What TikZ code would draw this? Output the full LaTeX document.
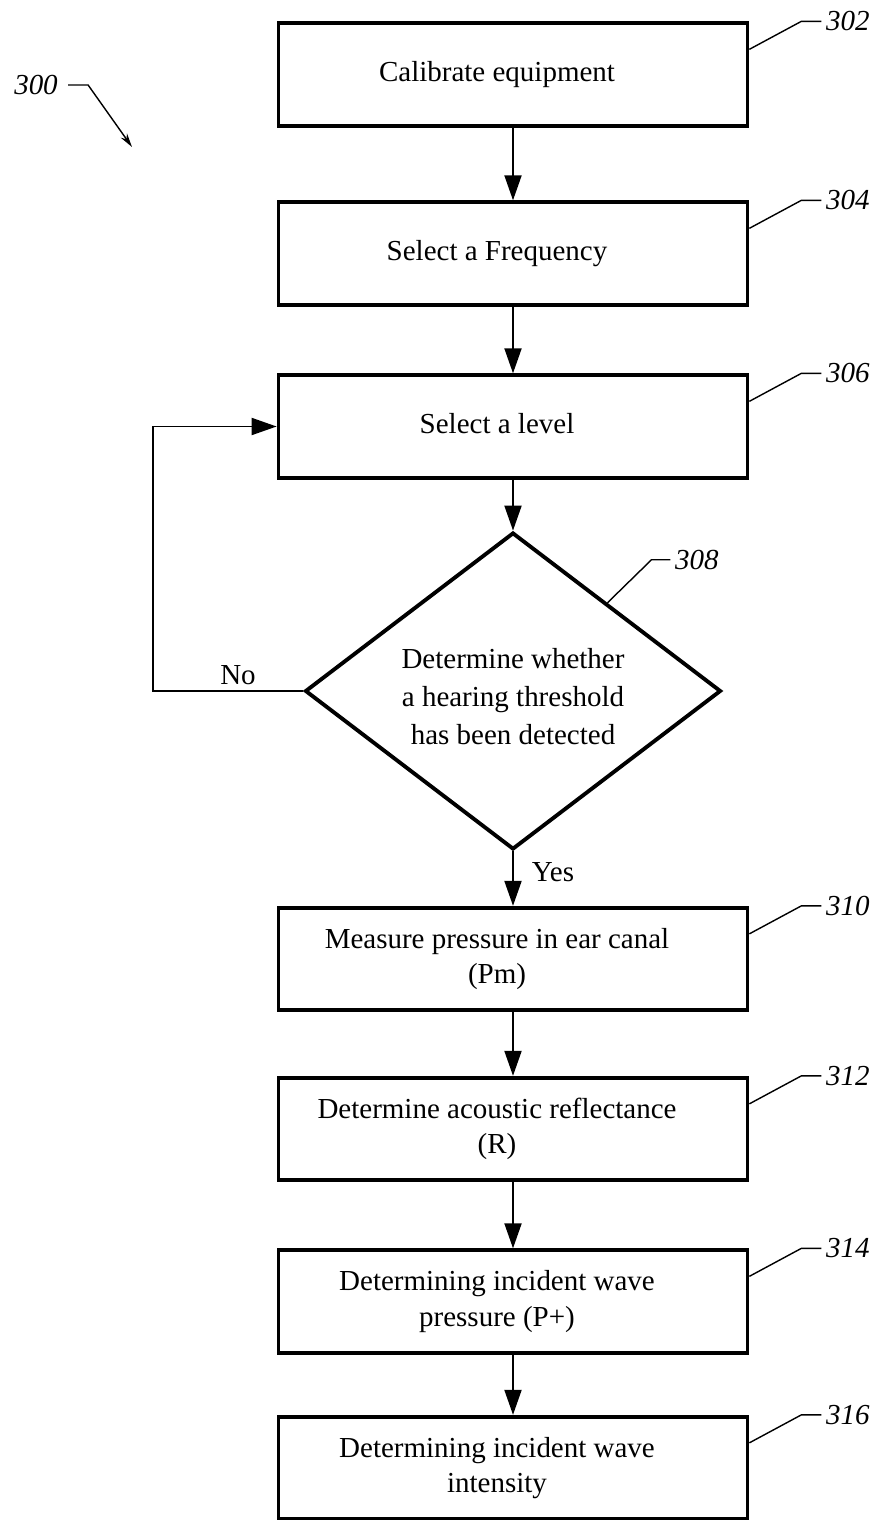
\documentclass[tikz,border=0pt]{standalone}
\usepackage{fontspec}
\setmainfont{Liberation Serif}
\usetikzlibrary{shapes.geometric,arrows.meta,calc}

\newcommand{\shiftl}[1]{\hspace*{-0.64cm}\begin{tabular}{@{}c@{}}#1\end{tabular}}
\newcommand{\lowr}[1]{\raisebox{-0.16cm}[\height][\depth]{\begin{tabular}{@{}c@{}}#1\end{tabular}}}

\tikzset{
  stepbox/.style={draw, line width=2.2pt, minimum width=9.38cm, minimum height=2.05cm, inner sep=0pt,
    font=\fontsize{16.5}{20}\selectfont},
  decision/.style={draw, diamond, line width=2.2pt, minimum width=8.32cm, minimum height=6.34cm,
    aspect=1.31, inner sep=0pt, font=\fontsize{16.5}{21.5}\selectfont},
  flow/.style={line width=1.1pt, -{Triangle[length=0.5cm,width=0.34cm]}},
  lead/.style={line width=0.8pt},
  refnum/.style={font=\fontsize{16.5}{20}\selectfont\itshape, anchor=west, inner sep=0pt, xshift=0.08cm},
  answer/.style={font=\fontsize{16.5}{20}\selectfont, inner sep=0pt}
}

\begin{document}
\begin{tikzpicture}[x=0.02cm, y=-0.02cm]
\useasboundingbox (0,0) rectangle (873,1520);

\node[stepbox] (cal) at (513,74.5) {\shiftl{Calibrate equipment}};
\node[stepbox] (freq) at (513,253.5) {\shiftl{Select a Frequency}};
\node[stepbox] (lvl) at (513,426.5) {\shiftl{Select a level}};
\node[decision] (thr) at (513,691) {\lowr{Determine whether\\a hearing threshold\\has been detected}};
\node[stepbox] (pm) at (513,959) {\shiftl{Measure pressure in ear canal\\(Pm)}};
\node[stepbox] (refl) at (513,1129) {\shiftl{Determine acoustic reflectance\\(R)}};
\node[stepbox] (pinc) at (513,1301.5) {\shiftl{Determining incident wave\\pressure (P+)}};
\node[stepbox] (inten) at (513,1468) {\shiftl{Determining incident wave\\intensity}};

\draw[flow] (cal) -- (freq);
\draw[flow] (freq) -- (lvl);
\draw[flow] (lvl) -- (thr);
\draw[flow] (thr) -- (pm);
\draw[flow] (pm) -- (refl);
\draw[flow] (refl) -- (pinc);
\draw[flow] (pinc) -- (inten);

\coordinate (back) at (153,691);
\draw[flow] (thr.west) -- (back) |- (lvl.west);
\node[answer] (no) at (238,675) {No};
\node[answer] (yes) at (553,872) {Yes};

\node[refnum, anchor=center, xshift=0pt] (fig) at (32,85) {300};
\coordinate (figtip) at (132,147);
\draw[lead, -{Stealth[length=0.28cm,width=0.15cm]}] ([xshift=0.2cm]fig.east) -- ++(20,0) -- (figtip);

\draw[lead] ($(cal.north east)+(0,28)$) -- ++(52,-28) -- ++(20,0) node[refnum] {302};
\draw[lead] ($(freq.north east)+(0,28)$) -- ++(52,-28) -- ++(20,0) node[refnum] {304};
\draw[lead] ($(lvl.north east)+(0,28)$) -- ++(52,-28) -- ++(20,0) node[refnum] {306};
\draw[lead] ($(thr.north)!0.45!(thr.east)$) -- ++(44,-43) -- ++(19,0) node[refnum] {308};
\draw[lead] ($(pm.north east)+(0,28)$) -- ++(52,-28) -- ++(20,0) node[refnum] {310};
\draw[lead] ($(refl.north east)+(0,28)$) -- ++(52,-28) -- ++(20,0) node[refnum] {312};
\draw[lead] ($(pinc.north east)+(0,28)$) -- ++(52,-28) -- ++(20,0) node[refnum] {314};
\draw[lead] ($(inten.north east)+(0,28)$) -- ++(52,-28) -- ++(20,0) node[refnum] {316};
\end{tikzpicture}
\end{document}
